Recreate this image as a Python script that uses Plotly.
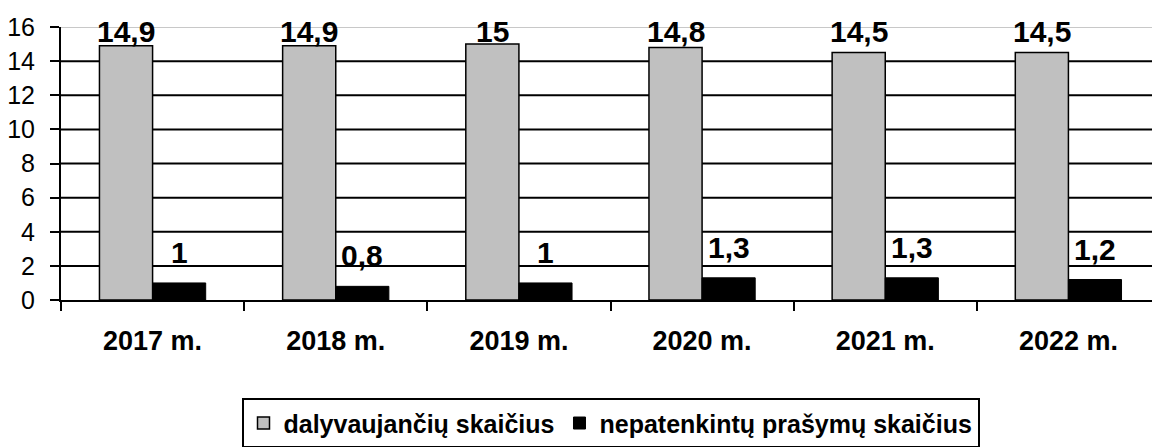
import plotly.graph_objects as go

categories = ["2017 m.", "2018 m.", "2019 m.", "2020 m.", "2021 m.", "2022 m."]
dalyvaujanciu = [14.9, 14.9, 15, 14.8, 14.5, 14.5]
nepatenkintu = [1, 0.8, 1, 1.3, 1.3, 1.2]
series_names = ["dalyvaujančių skaičius", "nepatenkintų prašymų skaičius"]
y_ticks = [0, 2, 4, 6, 8, 10, 12, 14, 16]
y_max = 16

FONT = "Liberation Sans, Arial, sans-serif"
BARGAP = 0.42


def fmt(v):
    return f"{v:g}".replace(".", ",")


fig = go.Figure()
fig.add_trace(go.Bar(
    x=categories, y=dalyvaujanciu, name=series_names[0],
    marker=dict(color="#c0c0c0", line=dict(color="black", width=1.5)),
))
fig.add_trace(go.Bar(
    x=categories, y=nepatenkintu, name=series_names[1],
    marker=dict(color="black", line=dict(color="black", width=1)),
))

# gridlines as line traces on an overlaid numeric x axis, interrupted where bars stand
w = (1 - BARGAP) / 2
n = len(categories)
for t in y_ticks[1:]:
    blocked = []
    for i in range(n):
        if dalyvaujanciu[i] > t:
            blocked.append((i - w, i))
        if nepatenkintu[i] > t:
            blocked.append((i, i + w))
    blocked.sort()
    start = -0.5
    free = []
    for a, b in blocked:
        if a > start:
            free.append((start, a))
        start = max(start, b)
    if start < n - 0.5:
        free.append((start, n - 0.5))
    xs, ys = [], []
    for a, b in free:
        xs += [a, b, None]
        ys += [t, t, None]
    color = "#c8c8c8" if t == y_max else "black"
    fig.add_trace(go.Scatter(
        x=xs, y=ys, xaxis="x2", yaxis="y", mode="lines",
        line=dict(color=color, width=2), showlegend=False, hoverinfo="skip",
        connectgaps=False,
    ))

half = 26.5
label_font = dict(family=FONT, size=30, color="black", weight="bold")
annotations = []
# grey-series labels are clamped to the top of the value axis (as in the original)
for c, v in zip(categories, dalyvaujanciu):
    annotations.append(dict(
        x=c, y=y_max, xref="x", yref="y", text=fmt(v),
        showarrow=False, xshift=-half, yanchor="bottom", yshift=-23,
        font=label_font,
    ))
for c, v in zip(categories, nepatenkintu):
    annotations.append(dict(
        x=c, y=v, xref="x", yref="y", text=fmt(v),
        showarrow=False, xshift=half, yanchor="bottom", yshift=12,
        font=label_font,
    ))

fig.update_layout(
    width=1152, height=439,
    margin=dict(l=53, r=0, t=19, b=147, autoexpand=False),
    paper_bgcolor="white", plot_bgcolor="white",
    barmode="group", bargap=BARGAP, bargroupgap=0,
    font=dict(family=FONT, color="black"),
    annotations=annotations,
    showlegend=True,
    legend=dict(
        orientation="h", x=0.5, xanchor="center", xref="paper",
        y=-0.36, yanchor="top",
        bordercolor="black", borderwidth=2,
        font=dict(family=FONT, size=25, color="black", weight="bold"),
        traceorder="normal",
    ),
    xaxis=dict(
        type="category", tickson="boundaries", ticks="outside", ticklen=9,
        tickwidth=2, tickcolor="black", showline=True, linewidth=2,
        linecolor="black", showgrid=False, automargin=False,
        range=[-0.5, n - 0.5],
        tickfont=dict(family=FONT, size=27, color="black", weight="bold"),
        ticklabelstandoff=16,
    ),
    xaxis2=dict(
        overlaying="x", range=[-0.5, n - 0.5], visible=False,
        showgrid=False, zeroline=False,
    ),
    yaxis=dict(
        range=[0, y_max], tickmode="array", tickvals=y_ticks,
        ticktext=[str(t) for t in y_ticks],
        ticks="outside", ticklen=9, tickwidth=2, tickcolor="black",
        showline=True, linewidth=2, linecolor="black",
        showgrid=False, zeroline=False,
        automargin=False, ticklabelstandoff=10,
        tickfont=dict(family=FONT, size=25, color="black"),
    ),
)

fig.write_html("out.html")
